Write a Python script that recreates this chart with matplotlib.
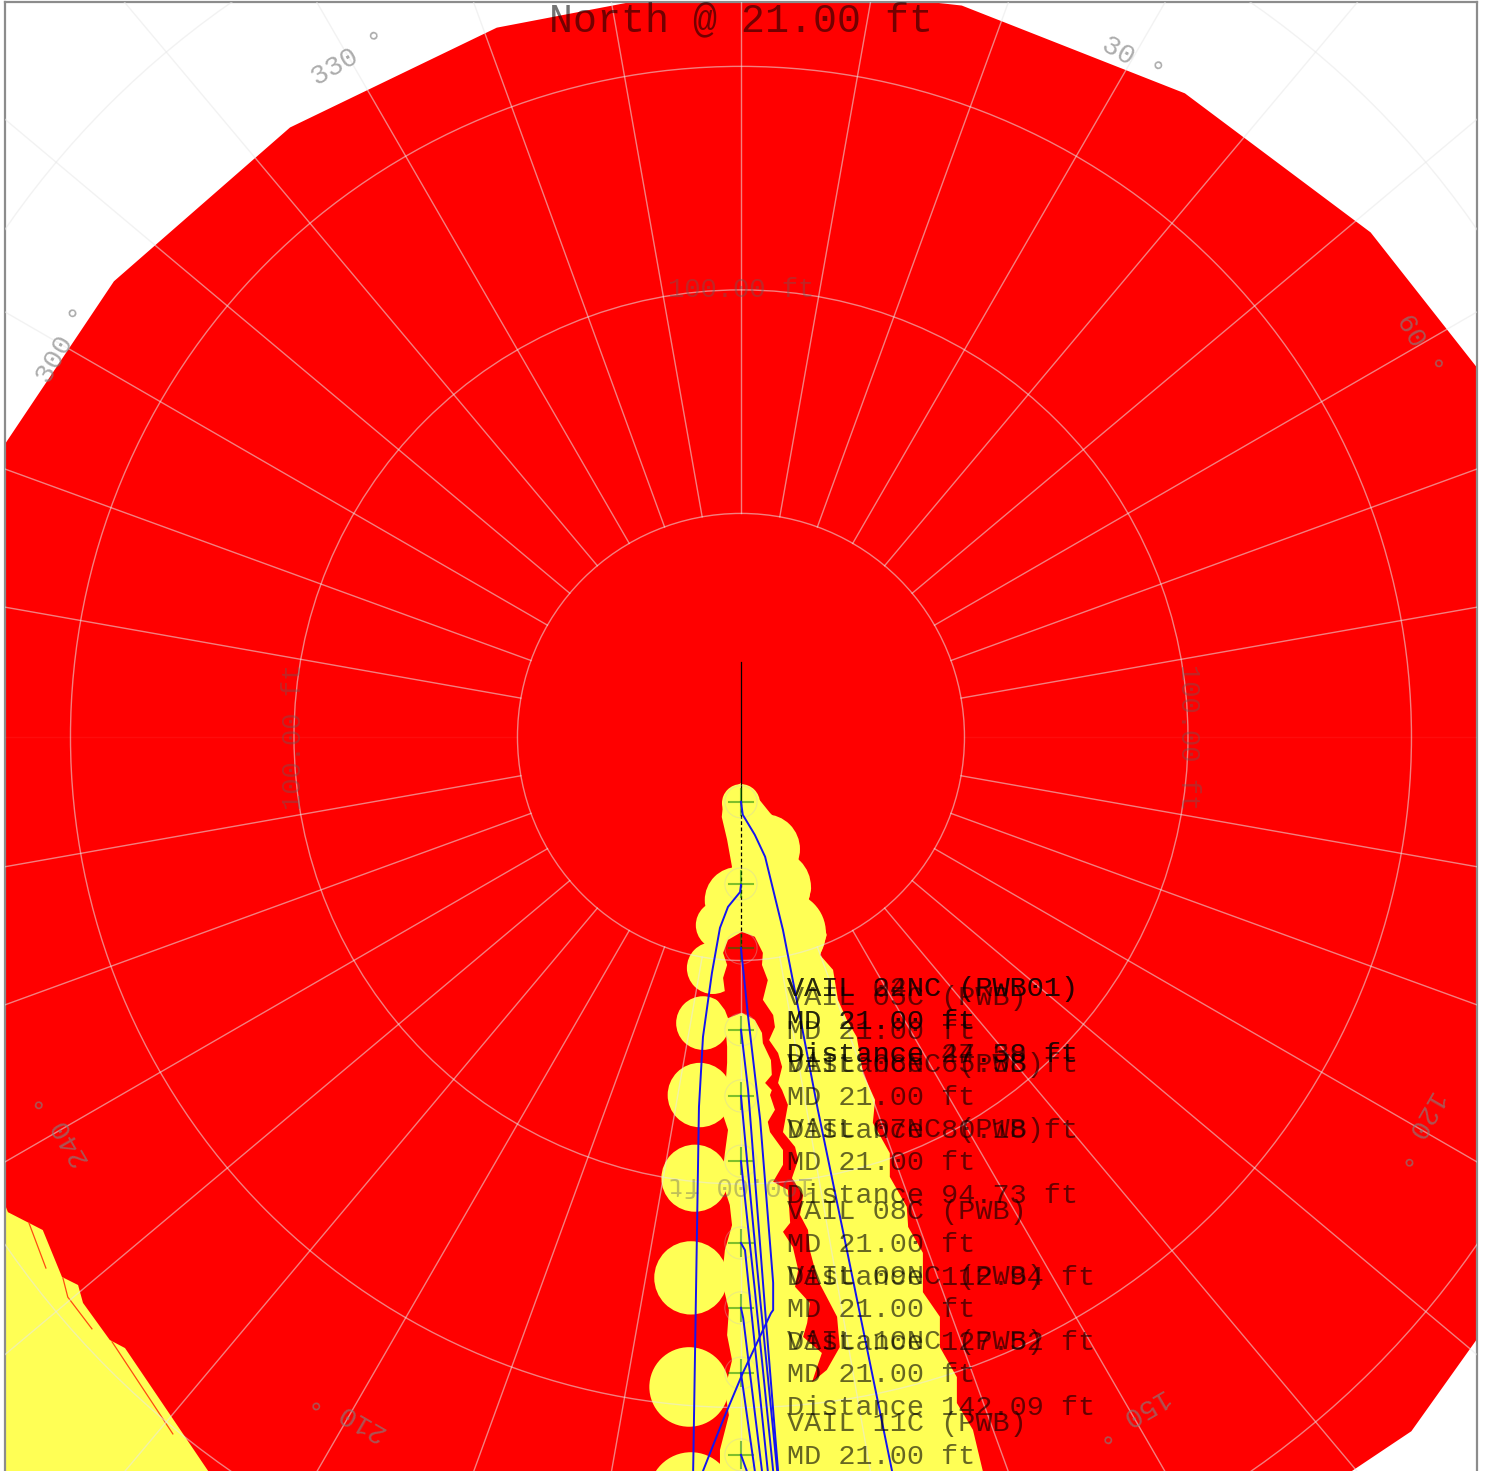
import numpy as np
import matplotlib
matplotlib.use('Agg')
import matplotlib.pyplot as plt

plt.rcParams['font.family'] = ['Liberation Mono', 'DejaVu Sans Mono']

# outer no-go boundary, bearing (deg clockwise from north) and radius (ft)
bound_bearing = [0, 16.8, 34.6, 51.3, 70, 90, 110, 122.7, 136, 155, 180, 200, 230, 250, 270, 287, 306, 323.5, 341]
bound_radius = [169.1, 170.9, 174.9, 180.5, 190, 206, 212, 212.5, 215.9, 215, 205, 205, 215, 205, 195, 181, 173.4, 169.6, 167.8]

# yellow lobe around the pad, east / north (ft)
lobe_e = [-3.8, 0, 3.6, 6.5, 10.3, 12.5, 12.8, 14.8, 15.7, 15.0, 18.1, 19.2, 17.7, 20.6, 21.7, 23.7, 25.9, 27.3, 30.0,
          29.5, 33.3, 33.3, 37.1, 37.4, 40.7, 40.7, 44.5, 44.5, 48.3, 48.3, 51.9, 54.1, 55.7,
          -4.7, -4.7, -2.7, -3.6, -2.0, -3.1, -2.7, -4.3, -3.6, -2.0, -2.5, -4.3, -3.6, -2.9, -4.0, -3.6,
          -3.1, -3.1, -3.6, -3.6, -4.3, -2.0, -3.1, -4.3]
lobe_n = [-13.0, -10.3, -13.4, -17.0, -20.8, -24.6, -28.2, -30.4, -33.8, -37.1, -40.9, -44.3, -48.8, -52.1, -58.8, -63.3, -67.1, -75.2, -81.2,
          -86.3, -93.1, -98.4, -105.1, -109.6, -115.4, -124.2, -129.7, -136.5, -143.2, -149.0, -155.0, -164.2, -169.6,
          -169.6, -159.5, -151.7, -146.1, -139.4, -133.8, -128.2, -121.5, -114.8, -109.2, -104.7, -99.1, -93.1, -87.9, -84.6, -80.1,
          -72.9, -69.3, -63.3, -49.9, -36.5, -29.1, -23.0, -17.9]

# round lobes, west side and the upper east bulges
blob_e = [0, -0.7, -4.7, -6.3, -8.5, -9.2, -10.3, -11.2, -11.6, -11.2, 5.4, 7.6, 9.8]
blob_n = [-14.8, -36.5, -42.1, -51.7, -64.0, -80.1, -98.7, -121.0, -145.4, -169.4, -25.1, -33.5, -43.8]
blob_r = [4.25, 7.4, 5.4, 5.8, 6.0, 7.2, 7.5, 8.2, 8.9, 9.4, 7.8, 8.05, 9.2]

# red pocket inside the lobe
pocket_e = [0.2, 3.1, 4.9, 4.7, 6.0, 4.9, 7.2, 7.6, 6.3, 8.3, 9.2, 8.3, 9.2, 10.5, 9.4, 12.1, 12.8, 11.4, 13.9, 13.2,
            15.0, 15.4, 17.2, 19.2, 21.5, 22.1, 19.2, 15.9, 18.1, 13.9, 14.8, 15.4, 12.1, 12.8, 11.6, 9.4, 11.0, 10.5,
            7.2, 9.4, 9.4, 6.5, 6.0, 7.6, 6.5, 6.9, 5.4, 6.9, 6.7, 4.9, 4.7, 3.1, 0.2, -2.9, -3.6, -5.8, -3.6, -4.0,
            -3.1, -4.0, -2.9]
pocket_n = [-43.6, -44.7, -48.3, -51.0, -54.4, -58.8, -62.2, -64.9, -67.8, -70.7, -73.8, -77.4, -79.0, -82.3, -88.4, -91.7, -94.6, -98.7, -102.5, -106.9,
            -110.3, -114.8, -121.5, -125.3, -129.7, -136.5, -141.6, -144.3, -137.8, -134.2, -131.1, -126.6, -123.0, -119.2, -114.1, -110.7, -108.7, -101.3,
            -99.5, -95.7, -92.4, -88.4, -86.1, -83.4, -80.1, -79.0, -77.4, -75.6, -72.3, -68.5, -66.2, -63.3, -61.7, -62.9, -61.1, -58.2, -57.0, -53.9,
            -51.0, -48.3, -45.4]

# yellow corner, bottom left
corner_e = [-180, -164.7, -164.0, -156.2, -151.9, -148.3, -147.2, -141.2, -137.8, -119.2, -112, -180]
corner_n = [-104.5, -104.5, -106.3, -110.3, -120.8, -122.6, -126.6, -134.9, -136.7, -164.2, -175, -175]

# thin red traces in the corner
trace_1_e = [-159.3, -155.5]
trace_1_n = [-108.7, -118.8]
trace_2_e = [-151.7, -150.6, -145.2]
trace_2_n = [-121.0, -125.3, -132.4]
trace_3_e = [-140.7, -127.1]
trace_3_n = [-135.3, -155.9]

# well paths, east / north (ft)
wells = [
    ([0, 0.4, 3.1, 5.4, 9.4, 13.9, 17.2, 23.7, 34.9], [-14.5, -17.4, -21.9, -26.8, -43.2, -66.2, -83.4, -114.8, -169.6]),
    ([0, -0.2, -2.9, -4.7, -6.5, -8.5, -9.4, -10.7, -11.0], [-33.1, -34.7, -38.0, -42.7, -52.8, -67.1, -82.8, -164.2, -170.0]),
    ([0, 0.2, 1.6, 4.3, 7.2, 7.2, 6.7, 0.4, -4.0, -8.5, -10.7], [-47.2, -49.2, -62.6, -85.7, -122.1, -128.2, -128.9, -142.3, -152.8, -164.2, -169.6]),
    ([0, 0.2, 1.6, 5.4, 8.3, 8.7], [-65.5, -67.1, -79.0, -128.2, -164.2, -169.6]),
    ([0, 4.3, 8.1, 8.5], [-80.3, -125.9, -164.2, -169.6]),
    ([0, 3.1, 7.2, 7.6], [-94.9, -123.7, -164.2, -169.6]),
    ([0, 0.9, 6.0, 6.5], [-113.2, -114.8, -164.2, -169.6]),
    ([0, 0.5, 4.7, 5.1], [-127.7, -130.0, -164.2, -169.6]),
    ([0, 3.1, 3.4], [-142.3, -164.2, -169.6]),
    ([0, 1.3, 1.9], [-160.6, -164.2, -169.6]),
]

# well head crosses on the north-south pad line
cross_n = [-14.5, -32.9, -47.2, -65.5, -80.3, -94.9, -113.2, -127.7, -142.3, -160.6]

# labels, the last block runs off the bottom so it has no distance line in view
label_names = ['VAIL 02NC (PWB01)', 'VAIL 24NC (RWB01)', 'VAIL 05C (PWB)', 'VAIL 06NC (PWB)', 'VAIL 07NC (PWB)',
               'VAIL 08C (PWB)', 'VAIL 09NC (PWB)', 'VAIL 10NC (PWB)', 'VAIL 11C (PWB)']
label_dist = [27.39, 44.58, 65.58, 80.18, 94.73, 112.94, 127.52, 142.09, None]
label_north = [-63.7, -63.7, -65.9, -80.7, -95.3, -113.6, -128.1, -142.7, -161.0]

ring_radius = [50, 100, 150, 200]
range_bearing = [0, 90, 180, 270]
angle_labels = [30, 60, 120, 150, 210, 240, 300, 330]


def polar(bearing, r):
    t = np.radians(bearing)
    return np.asarray(r) * np.sin(t), np.asarray(r) * np.cos(t)


fig = plt.figure(figsize=(14.86, 14.71), dpi=100)
ax = fig.add_axes([5 / 1486, 0, 1471.5 / 1486, 1469 / 1471])
ax.set_xlim(-164.65, 164.55)
ax.set_ylim(-164.2, 164.4)
ax.set_xticks([])
ax.set_yticks([])
for s in ax.spines.values():
    s.set_color('#8c8c8c')
    s.set_linewidth(1.6)
ax.spines['bottom'].set_visible(False)

# 区域
bx, by = polar(np.array(bound_bearing), np.array(bound_radius))
ax.fill(bx, by, color='#ff0000', lw=0, zorder=1)
ax.fill(lobe_e, lobe_n, color='#ffff55', lw=0, zorder=2)
for e, n, r in zip(blob_e, blob_n, blob_r):
    ax.add_patch(plt.Circle((e, n), r, color='#ffff55', lw=0, zorder=2))
ax.fill(corner_e, corner_n, color='#ffff55', lw=0, zorder=2)
ax.fill(pocket_e, pocket_n, color='#ff0000', lw=0, zorder=3)
for te, tn in [(trace_1_e, trace_1_n), (trace_2_e, trace_2_n), (trace_3_e, trace_3_n)]:
    ax.plot(te, tn, color='#ff4a10', lw=0.9, zorder=3)

# 网格
grid = dict(color='#e8e8e8', alpha=0.55, lw=1.0, zorder=4)
for r in ring_radius:
    ax.add_patch(plt.Circle((0, 0), r, fill=False, **grid))
for b in range(0, 360, 10):
    sx, sy = polar(b, np.array([50, 250]))
    if b in (90, 270):
        ax.plot(sx, sy, color='white', alpha=0.05, lw=1.0, zorder=4)
    else:
        ax.plot(sx, sy, **grid)

for b in range_bearing:
    tx, ty = polar(b, 100)
    ax.text(tx, ty, '100.00 ft', rotation=-b, rotation_mode='anchor', ha='center', va='center',
            fontsize=19.5, color='#606060', alpha=0.4, zorder=5)
for b in angle_labels:
    tx, ty = polar(b, 175)
    ax.text(tx, ty, '%d °' % b, rotation=-b, rotation_mode='anchor', ha='center', va='center',
            fontsize=20, color='#808080', alpha=0.65, zorder=5)

# 参考井
ax.plot([0, 0], [16.8, -14.5], color='black', lw=0.9, zorder=6)
ax.plot([0, 0], [-14.5, -47.2], color='black', lw=0.9, ls=(0, (3, 2)), zorder=6)

for n in cross_n:
    ax.add_patch(plt.Circle((0, n), 3.6, fill=False, color='#c8c8c8', alpha=0.35, lw=0.8, zorder=6))
    ax.plot([-2.7, 2.7], [n, n], color='green', alpha=0.5, lw=1.5, zorder=7)
    ax.plot([0, 0], [n - 2.9, n + 2.9], color='green', alpha=0.5, lw=1.5, zorder=7)

for e, n in wells:
    ax.plot(e, n, color='#1414f0', lw=1.4, zorder=8)

for name, d, n in zip(label_names, label_dist, label_north):
    style = dict(ha='left', va='center', fontsize=20.5, color='black', alpha=0.6, zorder=9)
    ax.text(10.3, n + 7.4, name, **style)
    ax.text(10.3, n, 'MD 21.00 ft', **style)
    if d is not None:
        ax.text(10.3, n - 7.4, 'Distance %.2f ft' % d, **style)

ax.text(0, 160.4, 'North @ 21.00 ft', ha='center', va='center', fontsize=28.8, color='black', alpha=0.55, zorder=9)

plt.savefig('out.png', dpi=100)
